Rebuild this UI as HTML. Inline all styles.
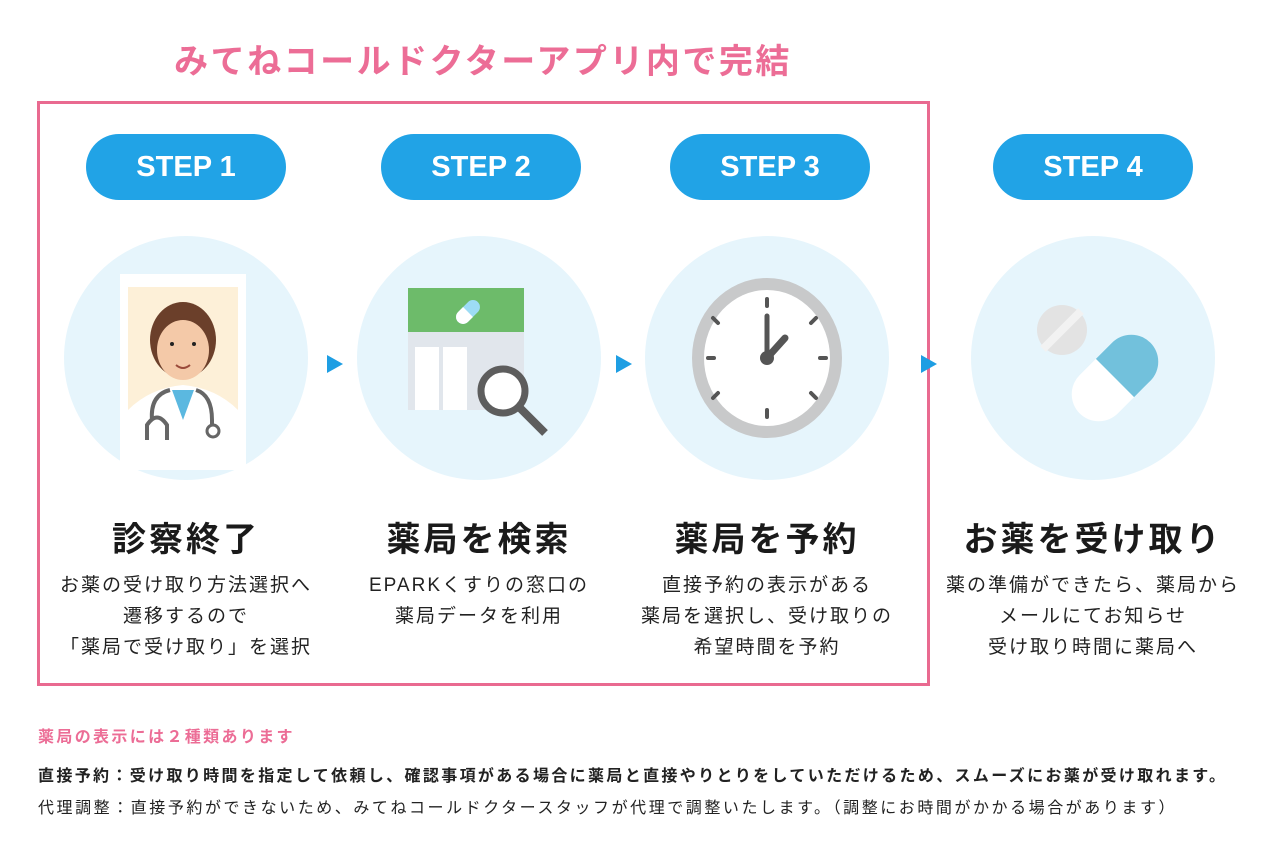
<!DOCTYPE html>
<html><head><meta charset="utf-8"><style>
body{margin:0;width:1280px;height:860px;background:#fff;font-family:"Liberation Sans","Noto Sans CJK JP",sans-serif;position:relative;overflow:hidden;color:#222}
.a{position:absolute}
.title{left:0;width:966px;top:34px;text-align:center;font-size:34px;font-weight:bold;color:#ec6d96;letter-spacing:2.5px}
.box{left:37px;top:101px;width:887px;height:579px;border:3px solid #e96a90}
.pill{height:66px;border-radius:33px;background:#21a3e6;color:#fff;font-size:29px;font-weight:bold;text-align:center;line-height:66px;top:134px;width:200px}
.circ{width:244px;height:244px;border-radius:50%;background:#e6f5fc;top:236px}
.h{font-size:34px;font-weight:bold;text-align:center;width:360px;top:512px;color:#1a1a1a;letter-spacing:3px}
.d{font-size:19px;text-align:center;width:360px;top:570px;line-height:31px;color:#222;letter-spacing:2px}
.tri{width:0;height:0;border-top:9px solid transparent;border-bottom:9px solid transparent;border-left:16px solid #1e9ee3;top:355px}
.f{left:38px;font-size:16px;font-weight:bold;letter-spacing:2.35px;white-space:nowrap}
</style></head><body>
<div class="a title">みてねコールドクターアプリ内で完結</div>
<div class="a box"></div>

<div class="a pill" style="left:86px">STEP 1</div>
<div class="a pill" style="left:381px">STEP 2</div>
<div class="a pill" style="left:670px">STEP 3</div>
<div class="a pill" style="left:993px">STEP 4</div>

<div class="a circ" style="left:64px"></div>
<div class="a circ" style="left:357px"></div>
<div class="a circ" style="left:645px"></div>
<div class="a circ" style="left:971px"></div>

<div class="a tri" style="left:327px"></div>
<div class="a tri" style="left:616px"></div>
<div class="a tri" style="left:921px"></div>

<svg class="a" style="left:0;top:0" width="1280" height="860">
<rect x="120" y="274" width="126" height="196" fill="#fff"/>
<rect x="128" y="287" width="110" height="178" fill="#fdf0d8"/>
<path d="M128 410 Q150 388 183 385 Q216 388 238 410 L238 465 L128 465Z" fill="#fff"/>
<path d="M172 390 L183 420 L194 390Z" fill="#5bb8e0"/>
<ellipse cx="183" cy="340" rx="33" ry="38" fill="#6b3f2a"/>
<ellipse cx="183" cy="350" rx="26" ry="30" fill="#f4c9a8"/>
<path d="M153 335 Q160 305 183 305 Q208 305 214 335 Q200 320 183 318 Q168 322 153 335Z" fill="#6b3f2a"/>
<circle cx="172" cy="344" r="2" fill="#222"/><circle cx="194" cy="344" r="2" fill="#222"/>
<path d="M176 365 Q183 371 190 365" stroke="#9a4a3a" stroke-width="2" fill="none"/>
<path d="M170 390 Q150 395 152 420 M196 390 Q212 395 212 420 L212 425" stroke="#666" stroke-width="4" fill="none"/>
<path d="M147 440 L147 425 Q157 410 167 425 L167 440" stroke="#666" stroke-width="4" fill="none"/>
<circle cx="213" cy="431" r="6" stroke="#666" stroke-width="3" fill="#fff"/>
<rect x="408" y="288" width="116" height="44" fill="#6dbb6a"/>
<rect x="408" y="332" width="116" height="78" fill="#e1e6ec"/>
<rect x="415" y="347" width="24" height="63" fill="#fff"/><rect x="443" y="347" width="24" height="63" fill="#fff"/>
<g transform="rotate(-45 468 312)"><rect x="454" y="305" width="28" height="14" rx="7" fill="#9ddcf5"/><path d="M461 305 h7 v14 h-7 a7 7 0 0 1 0-14z" fill="#fff"/></g>
<circle cx="503" cy="391" r="22" stroke="#5d5d5d" stroke-width="7" fill="#fff"/>
<line x1="519" y1="407" x2="545" y2="433" stroke="#5d5d5d" stroke-width="8"/>
<ellipse cx="767" cy="358" rx="75" ry="80" fill="#c8c9ca"/>
<ellipse cx="767" cy="358" rx="63" ry="68" fill="#fff"/>
<g stroke="#555" stroke-width="4" stroke-linecap="round">
<line x1="767" y1="299" x2="767" y2="306"/><line x1="767" y1="410" x2="767" y2="417"/>
<line x1="708" y1="358" x2="714" y2="358"/><line x1="820" y1="358" x2="826" y2="358"/>
<line x1="713" y1="318" x2="718" y2="323"/><line x1="816" y1="318" x2="811" y2="323"/>
<line x1="713" y1="398" x2="718" y2="393"/><line x1="816" y1="398" x2="811" y2="393"/>
<line x1="767" y1="358" x2="767" y2="316" stroke-width="5"/>
<line x1="767" y1="358" x2="785" y2="338" stroke-width="7"/>
</g>
<circle cx="767" cy="358" r="7" fill="#555"/>
<circle cx="1062" cy="330" r="25" fill="#e3e3e3"/>
<line x1="1043" y1="349" x2="1081" y2="311" stroke="#f2f2f2" stroke-width="8"/>
<g transform="rotate(45 1115 378)"><rect x="1088" y="328" width="54" height="100" rx="27" fill="#fff"/><path d="M1088 378 v-23 a27 27 0 0 1 54 0 v23z" fill="#72c1dc"/></g>
</svg>

<div class="a h" style="left:6px">診察終了</div>
<div class="a h" style="left:299px">薬局を検索</div>
<div class="a h" style="left:587px">薬局を予約</div>
<div class="a h" style="left:913px">お薬を受け取り</div>

<div class="a d" style="left:6px">お薬の受け取り方法選択へ<br>遷移するので<br>「薬局で受け取り」を選択</div>
<div class="a d" style="left:299px">EPARKくすりの窓口の<br>薬局データを利用</div>
<div class="a d" style="left:587px">直接予約の表示がある<br>薬局を選択し、受け取りの<br>希望時間を予約</div>
<div class="a d" style="left:913px">薬の準備ができたら、薬局から<br>メールにてお知らせ<br>受け取り時間に薬局へ</div>

<div class="a f" style="top:723px;color:#ec6d96">薬局の表示には２種類あります</div>
<div class="a f" style="top:762px">直接予約：受け取り時間を指定して依頼し、確認事項がある場合に薬局と直接やりとりをしていただけるため、スムーズにお薬が受け取れます。</div>
<div class="a f" style="top:794px;font-weight:normal;letter-spacing:2.55px">代理調整：直接予約ができないため、みてねコールドクタースタッフが代理で調整いたします。（調整にお時間がかかる場合があります）</div>
</body></html>
